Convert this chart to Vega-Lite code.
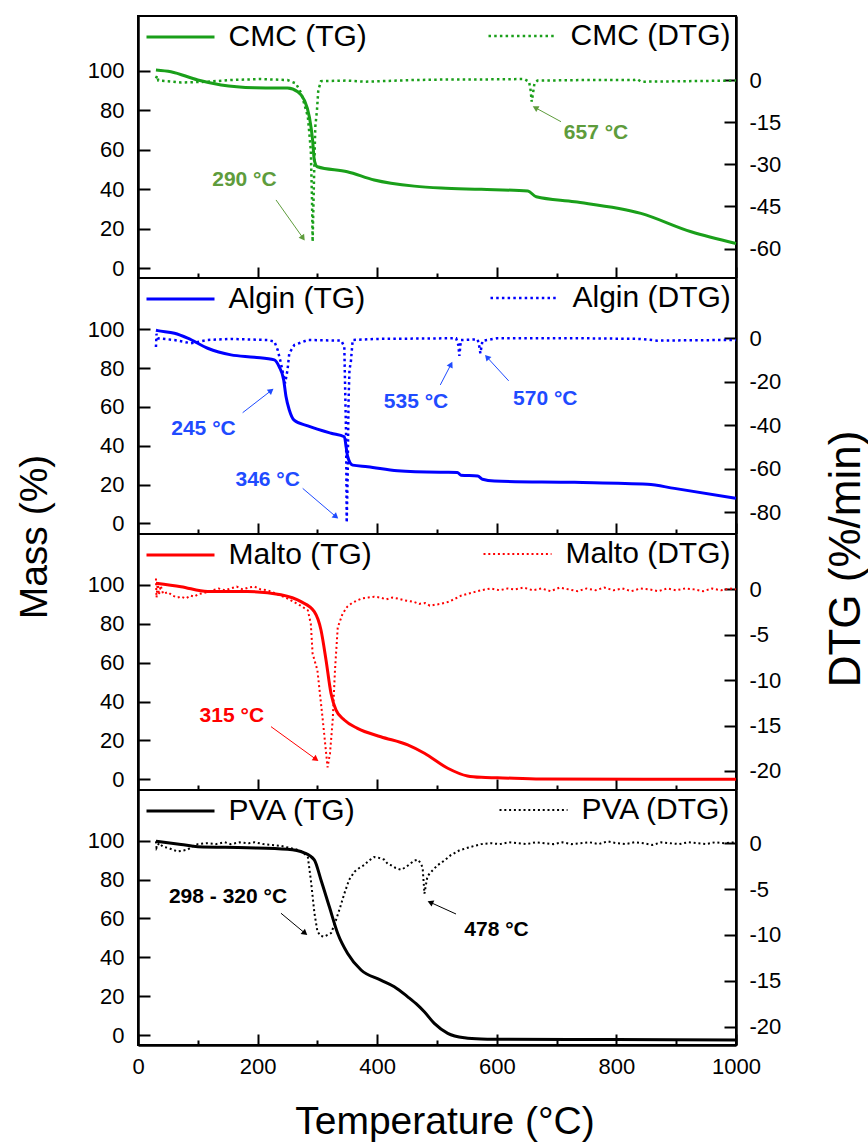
{
"$schema": "https://vega.github.io/schema/vega-lite/v6.json",
"padding": {"left": 14, "top": 15, "right": 14, "bottom": 22},
"background": "white",
"spacing": 0,
"bounds": "flush",
"datasets": {
"cmc": [
{"s":"CMC (TG)","T":30,"v":100.4},{"s":"CMC (TG)","T":55,"v":99.5},{"s":"CMC (TG)","T":100,"v":95.3},{"s":"CMC (TG)","T":139,"v":92.8},{"s":"CMC (TG)","T":195,"v":91.4},{"s":"CMC (TG)","T":250,"v":91.2},{"s":"CMC (TG)","T":267,"v":89.4},{"s":"CMC (TG)","T":278,"v":85.2},{"s":"CMC (TG)","T":286.5,"v":76.7},{"s":"CMC (TG)","T":292,"v":64.9},{"s":"CMC (TG)","T":294.8,"v":54.8},{"s":"CMC (TG)","T":300,"v":51.4},{"s":"CMC (TG)","T":350,"v":48.9},{"s":"CMC (TG)","T":395,"v":44.7},{"s":"CMC (TG)","T":462,"v":41.6},{"s":"CMC (TG)","T":507,"v":40.6},{"s":"CMC (TG)","T":574,"v":40.0},{"s":"CMC (TG)","T":652,"v":39.1},{"s":"CMC (TG)","T":666,"v":36.2},{"s":"CMC (TG)","T":730,"v":33.7},{"s":"CMC (TG)","T":841,"v":27.8},{"s":"CMC (TG)","T":925,"v":18.5},{"s":"CMC (TG)","T":1000,"v":12.6},
{"s":"CMC (DTG)","T":30,"v":0.6},{"s":"CMC (DTG)","T":32,"v":1.5},{"s":"CMC (DTG)","T":34,"v":-0.2},{"s":"CMC (DTG)","T":50,"v":-0.4},{"s":"CMC (DTG)","T":72,"v":-0.9},{"s":"CMC (DTG)","T":116,"v":-0.6},{"s":"CMC (DTG)","T":155,"v":0},{"s":"CMC (DTG)","T":206,"v":0.35},{"s":"CMC (DTG)","T":250,"v":0},{"s":"CMC (DTG)","T":264,"v":-1.2},{"s":"CMC (DTG)","T":273,"v":-4.7},{"s":"CMC (DTG)","T":284,"v":-13},{"s":"CMC (DTG)","T":289,"v":-25},{"s":"CMC (DTG)","T":291,"v":-42.7},{"s":"CMC (DTG)","T":292,"v":-57.6},{"s":"CMC (DTG)","T":294.8,"v":-30.9},{"s":"CMC (DTG)","T":296.5,"v":-16.6},{"s":"CMC (DTG)","T":299.3,"v":-10.7},{"s":"CMC (DTG)","T":301.5,"v":-3.6},{"s":"CMC (DTG)","T":306,"v":-0.4},{"s":"CMC (DTG)","T":350,"v":-0.2},{"s":"CMC (DTG)","T":378,"v":-0.6},{"s":"CMC (DTG)","T":406,"v":-0.4},{"s":"CMC (DTG)","T":462,"v":0},{"s":"CMC (DTG)","T":518,"v":0.2},{"s":"CMC (DTG)","T":574,"v":0.2},{"s":"CMC (DTG)","T":646,"v":0.35},{"s":"CMC (DTG)","T":654,"v":-0.6},{"s":"CMC (DTG)","T":656.5,"v":-3.6},{"s":"CMC (DTG)","T":658.4,"v":-7.7},{"s":"CMC (DTG)","T":663,"v":-1.2},{"s":"CMC (DTG)","T":668,"v":-0.2},{"s":"CMC (DTG)","T":750,"v":0},{"s":"CMC (DTG)","T":830,"v":0},{"s":"CMC (DTG)","T":835,"v":0.3},{"s":"CMC (DTG)","T":841,"v":-0.6},{"s":"CMC (DTG)","T":920,"v":-0.4},{"s":"CMC (DTG)","T":1000,"v":-0.2}
],
"algin": [
{"s":"Algin (TG)","T":30,"v":99.5},{"s":"Algin (TG)","T":33,"v":99.3},{"s":"Algin (TG)","T":61,"v":97.9},{"s":"Algin (TG)","T":83,"v":95.4},{"s":"Algin (TG)","T":116.5,"v":90.2},{"s":"Algin (TG)","T":155.5,"v":86.8},{"s":"Algin (TG)","T":194.5,"v":85.6},{"s":"Algin (TG)","T":228,"v":84.2},{"s":"Algin (TG)","T":236,"v":80.7},{"s":"Algin (TG)","T":243.6,"v":73.9},{"s":"Algin (TG)","T":247.5,"v":65.3},{"s":"Algin (TG)","T":253,"v":58.4},{"s":"Algin (TG)","T":261,"v":53.2},{"s":"Algin (TG)","T":284,"v":50.2},{"s":"Algin (TG)","T":323,"v":46.4},{"s":"Algin (TG)","T":345,"v":44.6},{"s":"Algin (TG)","T":348,"v":39.5},{"s":"Algin (TG)","T":350.6,"v":34.3},{"s":"Algin (TG)","T":359,"v":30},{"s":"Algin (TG)","T":384,"v":29.2},{"s":"Algin (TG)","T":434,"v":27.1},{"s":"Algin (TG)","T":507,"v":26.3},{"s":"Algin (TG)","T":534,"v":26.2},{"s":"Algin (TG)","T":540,"v":24.8},{"s":"Algin (TG)","T":568,"v":24.4},{"s":"Algin (TG)","T":576,"v":22.7},{"s":"Algin (TG)","T":596,"v":21.8},{"s":"Algin (TG)","T":730,"v":21.1},{"s":"Algin (TG)","T":852,"v":20.1},{"s":"Algin (TG)","T":897,"v":18},{"s":"Algin (TG)","T":1000,"v":12.9},
{"s":"Algin (DTG)","T":30,"v":-4},{"s":"Algin (DTG)","T":31,"v":2},{"s":"Algin (DTG)","T":33,"v":0},{"s":"Algin (DTG)","T":61,"v":-0.8},{"s":"Algin (DTG)","T":88.6,"v":-2.3},{"s":"Algin (DTG)","T":116.5,"v":-0.8},{"s":"Algin (DTG)","T":155.5,"v":-0.3},{"s":"Algin (DTG)","T":217,"v":-0.8},{"s":"Algin (DTG)","T":228,"v":-1.5},{"s":"Algin (DTG)","T":233.6,"v":-5.4},{"s":"Algin (DTG)","T":239,"v":-11.5},{"s":"Algin (DTG)","T":246,"v":-20.7},{"s":"Algin (DTG)","T":250,"v":-14.6},{"s":"Algin (DTG)","T":253,"v":-6.9},{"s":"Algin (DTG)","T":261.4,"v":-3.1},{"s":"Algin (DTG)","T":284,"v":-0.8},{"s":"Algin (DTG)","T":340,"v":-1.1},{"s":"Algin (DTG)","T":345,"v":-3.9},{"s":"Algin (DTG)","T":348,"v":-45},{"s":"Algin (DTG)","T":349,"v":-84.8},{"s":"Algin (DTG)","T":350.6,"v":-63.6},{"s":"Algin (DTG)","T":352,"v":-29.9},{"s":"Algin (DTG)","T":353.6,"v":-14.6},{"s":"Algin (DTG)","T":356,"v":-10.7},{"s":"Algin (DTG)","T":359,"v":-0.8},{"s":"Algin (DTG)","T":400,"v":-0.3},{"s":"Algin (DTG)","T":532,"v":0},{"s":"Algin (DTG)","T":535.7,"v":-3.1},{"s":"Algin (DTG)","T":537.4,"v":-8.1},{"s":"Algin (DTG)","T":540,"v":-0.8},{"s":"Algin (DTG)","T":568,"v":-0.5},{"s":"Algin (DTG)","T":570.8,"v":-3.9},{"s":"Algin (DTG)","T":572.5,"v":-6.9},{"s":"Algin (DTG)","T":576,"v":-1.2},{"s":"Algin (DTG)","T":600,"v":0},{"s":"Algin (DTG)","T":738,"v":0},{"s":"Algin (DTG)","T":840,"v":-0.3},{"s":"Algin (DTG)","T":869,"v":-1.1},{"s":"Algin (DTG)","T":930,"v":-0.9},{"s":"Algin (DTG)","T":1000,"v":-0.8}
],
"malto": [
{"s":"Malto (TG)","T":30,"v":100.9},{"s":"Malto (TG)","T":72,"v":99.1},{"s":"Malto (TG)","T":116.5,"v":96.6},{"s":"Malto (TG)","T":183,"v":96.6},{"s":"Malto (TG)","T":239,"v":94.9},{"s":"Malto (TG)","T":272.6,"v":91.4},{"s":"Malto (TG)","T":294.8,"v":86.3},{"s":"Malto (TG)","T":306,"v":76.8},{"s":"Malto (TG)","T":314.4,"v":61.4},{"s":"Malto (TG)","T":322.7,"v":44.3},{"s":"Malto (TG)","T":331,"v":35.7},{"s":"Malto (TG)","T":345,"v":30.5},{"s":"Malto (TG)","T":367,"v":26.2},{"s":"Malto (TG)","T":406,"v":21.9},{"s":"Malto (TG)","T":451,"v":17.7},{"s":"Malto (TG)","T":479,"v":13.4},{"s":"Malto (TG)","T":518,"v":5.7},{"s":"Malto (TG)","T":551,"v":1.7},{"s":"Malto (TG)","T":574,"v":1.0},{"s":"Malto (TG)","T":601,"v":0.8},{"s":"Malto (TG)","T":674,"v":0.1},{"s":"Malto (TG)","T":1000,"v":0},
{"s":"Malto (DTG)","T":30,"v":1.2},{"s":"Malto (DTG)","T":31,"v":-0.9},{"s":"Malto (DTG)","T":33,"v":0.8},{"s":"Malto (DTG)","T":35,"v":-0.6},{"s":"Malto (DTG)","T":38,"v":0.4},{"s":"Malto (DTG)","T":42,"v":-0.5},{"s":"Malto (DTG)","T":50,"v":-0.3},{"s":"Malto (DTG)","T":58,"v":-0.7},{"s":"Malto (DTG)","T":66,"v":-0.9},{"s":"Malto (DTG)","T":72,"v":-0.8},{"s":"Malto (DTG)","T":80,"v":-1.0},{"s":"Malto (DTG)","T":88,"v":-0.7},{"s":"Malto (DTG)","T":94,"v":-0.8},{"s":"Malto (DTG)","T":102,"v":-0.5},{"s":"Malto (DTG)","T":110,"v":-0.4},{"s":"Malto (DTG)","T":116,"v":-0.3},{"s":"Malto (DTG)","T":125,"v":-0.1},{"s":"Malto (DTG)","T":135,"v":0.1},{"s":"Malto (DTG)","T":145,"v":-0.1},{"s":"Malto (DTG)","T":155,"v":0.1},{"s":"Malto (DTG)","T":165,"v":0.3},{"s":"Malto (DTG)","T":175,"v":0.0},{"s":"Malto (DTG)","T":185,"v":0.2},{"s":"Malto (DTG)","T":195,"v":0.3},{"s":"Malto (DTG)","T":205,"v":0.0},{"s":"Malto (DTG)","T":217,"v":-0.1},{"s":"Malto (DTG)","T":228,"v":-0.4},{"s":"Malto (DTG)","T":239,"v":-0.7},{"s":"Malto (DTG)","T":250,"v":-1.0},{"s":"Malto (DTG)","T":261,"v":-1.4},{"s":"Malto (DTG)","T":272,"v":-1.8},{"s":"Malto (DTG)","T":284,"v":-2.3},{"s":"Malto (DTG)","T":289,"v":-3.8},{"s":"Malto (DTG)","T":292,"v":-7.1},{"s":"Malto (DTG)","T":300,"v":-8.9},{"s":"Malto (DTG)","T":309,"v":-14.4},{"s":"Malto (DTG)","T":317,"v":-19.6},{"s":"Malto (DTG)","T":321,"v":-18.1},{"s":"Malto (DTG)","T":325.6,"v":-14.4},{"s":"Malto (DTG)","T":329.4,"v":-8.9},{"s":"Malto (DTG)","T":334,"v":-4.2},{"s":"Malto (DTG)","T":342,"v":-2.7},{"s":"Malto (DTG)","T":350,"v":-1.9},{"s":"Malto (DTG)","T":358,"v":-1.5},{"s":"Malto (DTG)","T":367,"v":-1.2},{"s":"Malto (DTG)","T":375,"v":-1.0},{"s":"Malto (DTG)","T":385,"v":-0.9},{"s":"Malto (DTG)","T":395,"v":-0.8},{"s":"Malto (DTG)","T":405,"v":-0.9},{"s":"Malto (DTG)","T":415,"v":-1.1},{"s":"Malto (DTG)","T":425,"v":-0.9},{"s":"Malto (DTG)","T":434,"v":-1.0},{"s":"Malto (DTG)","T":445,"v":-1.2},{"s":"Malto (DTG)","T":455,"v":-1.3},{"s":"Malto (DTG)","T":462,"v":-1.4},{"s":"Malto (DTG)","T":470,"v":-1.6},{"s":"Malto (DTG)","T":480,"v":-1.5},{"s":"Malto (DTG)","T":488,"v":-1.8},{"s":"Malto (DTG)","T":496,"v":-1.7},{"s":"Malto (DTG)","T":506,"v":-1.6},{"s":"Malto (DTG)","T":518,"v":-1.4},{"s":"Malto (DTG)","T":528,"v":-1.1},{"s":"Malto (DTG)","T":540,"v":-0.7},{"s":"Malto (DTG)","T":551,"v":-0.5},{"s":"Malto (DTG)","T":562,"v":-0.3},{"s":"Malto (DTG)","T":574,"v":-0.1},{"s":"Malto (DTG)","T":590,"v":0.1},{"s":"Malto (DTG)","T":605,"v":-0.1},{"s":"Malto (DTG)","T":618,"v":0.1},{"s":"Malto (DTG)","T":630,"v":0.0},{"s":"Malto (DTG)","T":645,"v":0.2},{"s":"Malto (DTG)","T":660,"v":-0.1},{"s":"Malto (DTG)","T":675,"v":0.1},{"s":"Malto (DTG)","T":690,"v":-0.2},{"s":"Malto (DTG)","T":705,"v":0.2},{"s":"Malto (DTG)","T":720,"v":0.0},{"s":"Malto (DTG)","T":735,"v":-0.2},{"s":"Malto (DTG)","T":750,"v":0.1},{"s":"Malto (DTG)","T":765,"v":-0.1},{"s":"Malto (DTG)","T":780,"v":0.2},{"s":"Malto (DTG)","T":795,"v":-0.1},{"s":"Malto (DTG)","T":810,"v":0.1},{"s":"Malto (DTG)","T":825,"v":-0.2},{"s":"Malto (DTG)","T":840,"v":0.1},{"s":"Malto (DTG)","T":855,"v":0.0},{"s":"Malto (DTG)","T":870,"v":-0.2},{"s":"Malto (DTG)","T":885,"v":0.1},{"s":"Malto (DTG)","T":900,"v":-0.1},{"s":"Malto (DTG)","T":915,"v":0.1},{"s":"Malto (DTG)","T":930,"v":0.0},{"s":"Malto (DTG)","T":945,"v":-0.2},{"s":"Malto (DTG)","T":960,"v":0.1},{"s":"Malto (DTG)","T":975,"v":-0.1},{"s":"Malto (DTG)","T":990,"v":0.1},{"s":"Malto (DTG)","T":1000,"v":0.0}
],
"pva": [
{"s":"PVA (TG)","T":30,"v":99.8},{"s":"PVA (TG)","T":72,"v":98.1},{"s":"PVA (TG)","T":100,"v":96.9},{"s":"PVA (TG)","T":183,"v":96.4},{"s":"PVA (TG)","T":250,"v":95.6},{"s":"PVA (TG)","T":278,"v":93.8},{"s":"PVA (TG)","T":294.8,"v":90.1},{"s":"PVA (TG)","T":306,"v":79.8},{"s":"PVA (TG)","T":320,"v":66},{"s":"PVA (TG)","T":334,"v":52.3},{"s":"PVA (TG)","T":350.6,"v":42},{"s":"PVA (TG)","T":373,"v":33.5},{"s":"PVA (TG)","T":406,"v":28.3},{"s":"PVA (TG)","T":428.6,"v":24.9},{"s":"PVA (TG)","T":451,"v":19.7},{"s":"PVA (TG)","T":467.7,"v":15.4},{"s":"PVA (TG)","T":478.8,"v":12.0},{"s":"PVA (TG)","T":495.5,"v":6.0},{"s":"PVA (TG)","T":518,"v":0.9},{"s":"PVA (TG)","T":546,"v":-1.4},{"s":"PVA (TG)","T":574,"v":-2.0},{"s":"PVA (TG)","T":620,"v":-2.2},{"s":"PVA (TG)","T":800,"v":-2.3},{"s":"PVA (TG)","T":1000,"v":-2.5},
{"s":"PVA (DTG)","T":30,"v":0.2},{"s":"PVA (DTG)","T":31,"v":-0.5},{"s":"PVA (DTG)","T":35,"v":0.0},{"s":"PVA (DTG)","T":42,"v":-0.4},{"s":"PVA (DTG)","T":50,"v":-0.5},{"s":"PVA (DTG)","T":58,"v":-0.7},{"s":"PVA (DTG)","T":66,"v":-0.9},{"s":"PVA (DTG)","T":75,"v":-0.8},{"s":"PVA (DTG)","T":83,"v":-0.7},{"s":"PVA (DTG)","T":92,"v":-0.3},{"s":"PVA (DTG)","T":100,"v":-0.1},{"s":"PVA (DTG)","T":115,"v":0.0},{"s":"PVA (DTG)","T":130,"v":-0.1},{"s":"PVA (DTG)","T":145,"v":0.1},{"s":"PVA (DTG)","T":155,"v":-0.1},{"s":"PVA (DTG)","T":170,"v":0.1},{"s":"PVA (DTG)","T":185,"v":0.0},{"s":"PVA (DTG)","T":195,"v":0.1},{"s":"PVA (DTG)","T":210,"v":-0.1},{"s":"PVA (DTG)","T":225,"v":-0.2},{"s":"PVA (DTG)","T":239,"v":-0.3},{"s":"PVA (DTG)","T":253,"v":-0.5},{"s":"PVA (DTG)","T":266,"v":-0.7},{"s":"PVA (DTG)","T":276,"v":-1.0},{"s":"PVA (DTG)","T":284,"v":-1.5},{"s":"PVA (DTG)","T":289,"v":-4.0},{"s":"PVA (DTG)","T":295,"v":-7.6},{"s":"PVA (DTG)","T":300,"v":-9.6},{"s":"PVA (DTG)","T":305,"v":-10.1},{"s":"PVA (DTG)","T":311,"v":-10.2},{"s":"PVA (DTG)","T":317,"v":-10.0},{"s":"PVA (DTG)","T":323,"v":-9.8},{"s":"PVA (DTG)","T":331,"v":-8.4},{"s":"PVA (DTG)","T":338,"v":-7.0},{"s":"PVA (DTG)","T":345,"v":-5.5},{"s":"PVA (DTG)","T":353,"v":-4.0},{"s":"PVA (DTG)","T":362,"v":-3.1},{"s":"PVA (DTG)","T":370,"v":-2.7},{"s":"PVA (DTG)","T":378,"v":-2.4},{"s":"PVA (DTG)","T":386,"v":-1.9},{"s":"PVA (DTG)","T":395,"v":-1.5},{"s":"PVA (DTG)","T":403,"v":-1.6},{"s":"PVA (DTG)","T":412,"v":-1.8},{"s":"PVA (DTG)","T":418,"v":-2.3},{"s":"PVA (DTG)","T":423,"v":-2.4},{"s":"PVA (DTG)","T":431,"v":-2.7},{"s":"PVA (DTG)","T":440,"v":-2.9},{"s":"PVA (DTG)","T":448,"v":-2.6},{"s":"PVA (DTG)","T":456,"v":-2.2},{"s":"PVA (DTG)","T":462,"v":-1.9},{"s":"PVA (DTG)","T":468,"v":-1.8},{"s":"PVA (DTG)","T":473,"v":-2.2},{"s":"PVA (DTG)","T":476,"v":-2.7},{"s":"PVA (DTG)","T":479,"v":-5.5},{"s":"PVA (DTG)","T":484,"v":-3.6},{"s":"PVA (DTG)","T":492,"v":-3.0},{"s":"PVA (DTG)","T":501,"v":-2.4},{"s":"PVA (DTG)","T":512,"v":-1.9},{"s":"PVA (DTG)","T":523,"v":-1.3},{"s":"PVA (DTG)","T":537,"v":-0.8},{"s":"PVA (DTG)","T":551,"v":-0.5},{"s":"PVA (DTG)","T":562,"v":-0.3},{"s":"PVA (DTG)","T":574,"v":-0.1},{"s":"PVA (DTG)","T":590,"v":0.0},{"s":"PVA (DTG)","T":605,"v":-0.1},{"s":"PVA (DTG)","T":620,"v":0.1},{"s":"PVA (DTG)","T":635,"v":0.0},{"s":"PVA (DTG)","T":650,"v":-0.1},{"s":"PVA (DTG)","T":665,"v":0.1},{"s":"PVA (DTG)","T":680,"v":0.0},{"s":"PVA (DTG)","T":695,"v":-0.1},{"s":"PVA (DTG)","T":710,"v":0.1},{"s":"PVA (DTG)","T":725,"v":-0.1},{"s":"PVA (DTG)","T":740,"v":0.0},{"s":"PVA (DTG)","T":755,"v":0.1},{"s":"PVA (DTG)","T":770,"v":-0.1},{"s":"PVA (DTG)","T":785,"v":0.2},{"s":"PVA (DTG)","T":800,"v":0.0},{"s":"PVA (DTG)","T":815,"v":-0.1},{"s":"PVA (DTG)","T":830,"v":0.1},{"s":"PVA (DTG)","T":845,"v":0.0},{"s":"PVA (DTG)","T":860,"v":-0.2},{"s":"PVA (DTG)","T":875,"v":0.1},{"s":"PVA (DTG)","T":890,"v":0.0},{"s":"PVA (DTG)","T":905,"v":-0.1},{"s":"PVA (DTG)","T":920,"v":0.1},{"s":"PVA (DTG)","T":935,"v":0.0},{"s":"PVA (DTG)","T":950,"v":-0.1},{"s":"PVA (DTG)","T":965,"v":0.1},{"s":"PVA (DTG)","T":980,"v":0.0},{"s":"PVA (DTG)","T":1000,"v":0.1}
],
"notes": [
{"p":"CMC","label":"290 °C","tx":178,"ty":44.7,"ax":230.8,"ay":34.6,"bx":276,"by":15.3,"ang":144.6},
{"p":"CMC","label":"657 °C","tx":766,"ty":68.7,"ax":707.4,"ay":74.2,"bx":664.4,"by":81.3,"ang":298.6},
{"p":"Algin","label":"245 °C","tx":109.5,"ty":48.6,"ax":175,"ay":57,"bx":222.7,"by":68.4,"ang":52},
{"p":"Algin","label":"346 °C","tx":216.9,"ty":22.3,"ax":275.4,"ay":18,"bx":331.1,"by":3.4,"ang":130.5},
{"p":"Algin","label":"535 °C","tx":464.9,"ty":62.5,"ax":505.5,"ay":71.3,"bx":523.4,"by":81.9,"ang":27.3},
{"p":"Algin","label":"570 °C","tx":681,"ty":64.1,"ax":619.9,"ay":73.4,"bx":583.6,"by":85.6,"ang":317.5},
{"p":"Malto","label":"315 °C","tx":156.9,"ty":32.7,"ax":222.4,"ay":27.1,"bx":297.7,"by":10.3,"ang":125.9},
{"p":"PVA","label":"298 - 320 °C","tx":150.5,"ty":71.2,"ax":239.1,"ay":62.7,"bx":279.3,"by":52.4,"ang":129.8},
{"p":"PVA","label":"478 °C","tx":599.5,"ty":54.1,"ax":531.8,"ay":62.3,"bx":488.8,"by":68.3,"ang":294.3}
]
},
"vconcat": [
{
"width": 598, "height": 262,
"layer": [
{"layer": [
{"data": {"name": "cmc"}, "transform": [{"filter": "datum.s === 'CMC (TG)'"}],
 "mark": {"type": "line", "strokeWidth": 3, "interpolate": "monotone"},
 "encoding": {
  "x": {"field": "T", "type": "quantitative", "scale": {"domain": [0, 1000], "nice": false, "zero": false},
        "axis": {"values": [0,100,200,300,400,500,600,700,800,900,1000], "labels": false, "title": null, "tickSize": {"condition": {"test": "datum.value % 200 === 0", "value": -11}, "value": -5}}},
  "y": {"field": "v", "type": "quantitative", "scale": {"domain": [-4.9, 127.7], "nice": false, "zero": false},
        "axis": {"values": [0,20,40,60,80,100], "tickSize": -12, "labelPadding": 26, "title": null}},
  "color": {"field": "s", "type": "nominal", "scale": {"domain": ["CMC (TG)"], "range": ["#1a9f1a"]},
        "legend": {"orient": "top-left", "offset": 6, "title": null, "symbolType": "M-2,0H6", "symbolSize": 289, "symbolStrokeWidth": 3, "symbolOffset": 4.5, "labelOffset": 50}}
 }},
{"data": {"name": "notes"}, "transform": [{"filter": "datum.p === 'CMC'"}],
 "mark": {"type": "rule", "color": "#5e9c3c", "strokeWidth": 1},
 "encoding": {
  "x": {"field": "ax", "type": "quantitative", "scale": {"domain": [0, 1000], "nice": false, "zero": false},
        "axis": {"values": [0,100,200,300,400,500,600,700,800,900,1000], "labels": false, "title": null, "tickSize": {"condition": {"test": "datum.value % 200 === 0", "value": -11}, "value": -5}}},
  "y": {"field": "ay", "type": "quantitative", "scale": {"domain": [-4.9, 127.7], "nice": false, "zero": false},
        "axis": {"values": [0,20,40,60,80,100], "tickSize": -12, "labelPadding": 26, "title": null}},
  "x2": {"field": "bx"}, "y2": {"field": "by"}}},
{"data": {"name": "notes"}, "transform": [{"filter": "datum.p === 'CMC'"}],
 "mark": {"type": "point", "shape": "triangle-up", "filled": true, "size": 45, "color": "#5e9c3c", "opacity": 1},
 "encoding": {
  "x": {"field": "bx", "type": "quantitative", "scale": {"domain": [0, 1000], "nice": false, "zero": false},
        "axis": {"values": [0,100,200,300,400,500,600,700,800,900,1000], "labels": false, "title": null, "tickSize": {"condition": {"test": "datum.value % 200 === 0", "value": -11}, "value": -5}}},
  "y": {"field": "by", "type": "quantitative", "scale": {"domain": [-4.9, 127.7], "nice": false, "zero": false},
        "axis": {"values": [0,20,40,60,80,100], "tickSize": -12, "labelPadding": 26, "title": null}},
  "angle": {"field": "ang", "type": "quantitative", "scale": null}}},
{"data": {"name": "notes"}, "transform": [{"filter": "datum.p === 'CMC'"}],
 "mark": {"type": "text", "fontSize": 21, "fontWeight": "bold", "color": "#5e9c3c", "align": "center", "baseline": "middle", "font": "Liberation Sans"},
 "encoding": {
  "x": {"field": "tx", "type": "quantitative", "scale": {"domain": [0, 1000], "nice": false, "zero": false},
        "axis": {"values": [0,100,200,300,400,500,600,700,800,900,1000], "labels": false, "title": null, "tickSize": {"condition": {"test": "datum.value % 200 === 0", "value": -11}, "value": -5}}},
  "y": {"field": "ty", "type": "quantitative", "scale": {"domain": [-4.9, 127.7], "nice": false, "zero": false},
        "axis": {"values": [0,20,40,60,80,100], "tickSize": -12, "labelPadding": 26, "title": null}},
  "text": {"field": "label"}}}
]},
{"data": {"name": "cmc"}, "transform": [{"filter": "datum.s === 'CMC (DTG)'"}],
 "mark": {"type": "line", "strokeWidth": 2.5, "color": "#1a9f1a"},
 "encoding": {
  "x": {"field": "T", "type": "quantitative", "scale": {"domain": [0, 1000], "nice": false, "zero": false},
        "axis": {"values": [0,100,200,300,400,500,600,700,800,900,1000], "labels": false, "title": null, "tickSize": {"condition": {"test": "datum.value % 200 === 0", "value": -11}, "value": -5}}},
  "y": {"field": "v", "type": "quantitative", "scale": {"domain": [-70.5, 22.8], "nice": false, "zero": false},
        "axis": {"orient": "right", "values": [0,-15,-30,-45,-60], "tickSize": -12, "labelPadding": 25, "title": null, "labelExpr": "'' + datum.value"}},
  "strokeDash": {"field": "s", "type": "nominal", "scale": {"domain": ["CMC (DTG)"], "range": [[2.5, 3.2]]},
        "legend": {"orient": "top-right", "offset": 5, "title": null, "symbolType": "M-2,0H6", "symbolSize": 289, "symbolStrokeWidth": 2.5, "symbolOffset": 4.5, "labelOffset": 50, "symbolStrokeColor": "#1a9f1a"}}
 }}
],
"resolve": {"scale": {"y": "independent"}}
},
{
"width": 598, "height": 256,
"layer": [
{"layer": [
{"data": {"name": "algin"}, "transform": [{"filter": "datum.s === 'Algin (TG)'"}],
 "mark": {"type": "line", "strokeWidth": 3, "interpolate": "monotone"},
 "encoding": {
  "x": {"field": "T", "type": "quantitative", "scale": {"domain": [0, 1000], "nice": false, "zero": false},
        "axis": {"values": [0,100,200,300,400,500,600,700,800,900,1000], "labels": false, "title": null, "tickSize": {"condition": {"test": "datum.value % 200 === 0", "value": -11}, "value": -5}}},
  "y": {"field": "v", "type": "quantitative", "scale": {"domain": [-5.5, 126.4], "nice": false, "zero": false},
        "axis": {"values": [0,20,40,60,80,100], "tickSize": -12, "labelPadding": 26, "title": "Mass (%)", "titleFontSize": 39, "titleAngle": -90, "titleX": -92, "titleY": 258.5, "titleAlign": "center", "titleBaseline": "alphabetic", "titleLimit": 1000}},
  "color": {"field": "s", "type": "nominal", "scale": {"domain": ["Algin (TG)"], "range": ["#0000ff"]},
        "legend": {"orient": "top-left", "offset": 6, "title": null, "symbolType": "M-2,0H6", "symbolSize": 289, "symbolStrokeWidth": 3, "symbolOffset": 4.5, "labelOffset": 50}}
 }},
{"data": {"name": "notes"}, "transform": [{"filter": "datum.p === 'Algin'"}],
 "mark": {"type": "rule", "color": "#1f4bff", "strokeWidth": 1},
 "encoding": {
  "x": {"field": "ax", "type": "quantitative", "scale": {"domain": [0, 1000], "nice": false, "zero": false},
        "axis": {"values": [0,100,200,300,400,500,600,700,800,900,1000], "labels": false, "title": null, "tickSize": {"condition": {"test": "datum.value % 200 === 0", "value": -11}, "value": -5}}},
  "y": {"field": "ay", "type": "quantitative", "scale": {"domain": [-5.5, 126.4], "nice": false, "zero": false},
        "axis": {"values": [0,20,40,60,80,100], "tickSize": -12, "labelPadding": 26, "title": "Mass (%)", "titleFontSize": 39, "titleAngle": -90, "titleX": -92, "titleY": 258.5, "titleAlign": "center", "titleBaseline": "alphabetic", "titleLimit": 1000}},
  "x2": {"field": "bx"}, "y2": {"field": "by"}}},
{"data": {"name": "notes"}, "transform": [{"filter": "datum.p === 'Algin'"}],
 "mark": {"type": "point", "shape": "triangle-up", "filled": true, "size": 45, "color": "#1f4bff", "opacity": 1},
 "encoding": {
  "x": {"field": "bx", "type": "quantitative", "scale": {"domain": [0, 1000], "nice": false, "zero": false},
        "axis": {"values": [0,100,200,300,400,500,600,700,800,900,1000], "labels": false, "title": null, "tickSize": {"condition": {"test": "datum.value % 200 === 0", "value": -11}, "value": -5}}},
  "y": {"field": "by", "type": "quantitative", "scale": {"domain": [-5.5, 126.4], "nice": false, "zero": false},
        "axis": {"values": [0,20,40,60,80,100], "tickSize": -12, "labelPadding": 26, "title": "Mass (%)", "titleFontSize": 39, "titleAngle": -90, "titleX": -92, "titleY": 258.5, "titleAlign": "center", "titleBaseline": "alphabetic", "titleLimit": 1000}},
  "angle": {"field": "ang", "type": "quantitative", "scale": null}}},
{"data": {"name": "notes"}, "transform": [{"filter": "datum.p === 'Algin'"}],
 "mark": {"type": "text", "fontSize": 21, "fontWeight": "bold", "color": "#1f4bff", "align": "center", "baseline": "middle", "font": "Liberation Sans"},
 "encoding": {
  "x": {"field": "tx", "type": "quantitative", "scale": {"domain": [0, 1000], "nice": false, "zero": false},
        "axis": {"values": [0,100,200,300,400,500,600,700,800,900,1000], "labels": false, "title": null, "tickSize": {"condition": {"test": "datum.value % 200 === 0", "value": -11}, "value": -5}}},
  "y": {"field": "ty", "type": "quantitative", "scale": {"domain": [-5.5, 126.4], "nice": false, "zero": false},
        "axis": {"values": [0,20,40,60,80,100], "tickSize": -12, "labelPadding": 26, "title": "Mass (%)", "titleFontSize": 39, "titleAngle": -90, "titleX": -92, "titleY": 258.5, "titleAlign": "center", "titleBaseline": "alphabetic", "titleLimit": 1000}},
  "text": {"field": "label"}}}
]},
{"data": {"name": "algin"}, "transform": [{"filter": "datum.s === 'Algin (DTG)'"}],
 "mark": {"type": "line", "strokeWidth": 2.5, "color": "#0000ff"},
 "encoding": {
  "x": {"field": "T", "type": "quantitative", "scale": {"domain": [0, 1000], "nice": false, "zero": false},
        "axis": {"values": [0,100,200,300,400,500,600,700,800,900,1000], "labels": false, "title": null, "tickSize": {"condition": {"test": "datum.value % 200 === 0", "value": -11}, "value": -5}}},
  "y": {"field": "v", "type": "quantitative", "scale": {"domain": [-90, 27.7], "nice": false, "zero": false},
        "axis": {"orient": "right", "values": [0,-20,-40,-60,-80], "tickSize": -12, "labelPadding": 25, "labelExpr": "'' + datum.value", "title": "DTG (%/min)", "titleFontSize": 44, "titleAngle": -90, "titleX": 123, "titleY": 280.5, "titleAlign": "center", "titleBaseline": "alphabetic", "titleLimit": 1000}},
  "strokeDash": {"field": "s", "type": "nominal", "scale": {"domain": ["Algin (DTG)"], "range": [[2.5, 3.2]]},
        "legend": {"orient": "top-right", "offset": 5, "title": null, "symbolType": "M-2,0H6", "symbolSize": 289, "symbolStrokeWidth": 2.5, "symbolOffset": 4.5, "labelOffset": 50, "symbolStrokeColor": "#0000ff"}}
 }}
],
"resolve": {"scale": {"y": "independent"}}
},
{
"width": 598, "height": 256,
"layer": [
{"layer": [
{"data": {"name": "malto"}, "transform": [{"filter": "datum.s === 'Malto (TG)'"}],
 "mark": {"type": "line", "strokeWidth": 3, "interpolate": "monotone"},
 "encoding": {
  "x": {"field": "T", "type": "quantitative", "scale": {"domain": [0, 1000], "nice": false, "zero": false},
        "axis": {"values": [0,100,200,300,400,500,600,700,800,900,1000], "labels": false, "title": null, "tickSize": {"condition": {"test": "datum.value % 200 === 0", "value": -11}, "value": -5}}},
  "y": {"field": "v", "type": "quantitative", "scale": {"domain": [-5.5, 126.2], "nice": false, "zero": false},
        "axis": {"values": [0,20,40,60,80,100], "tickSize": -12, "labelPadding": 26, "title": null}},
  "color": {"field": "s", "type": "nominal", "scale": {"domain": ["Malto (TG)"], "range": ["#ff0000"]},
        "legend": {"orient": "top-left", "offset": 6, "title": null, "symbolType": "M-2,0H6", "symbolSize": 289, "symbolStrokeWidth": 3, "symbolOffset": 4.5, "labelOffset": 50}}
 }},
{"data": {"name": "notes"}, "transform": [{"filter": "datum.p === 'Malto'"}],
 "mark": {"type": "rule", "color": "#ff0000", "strokeWidth": 1},
 "encoding": {
  "x": {"field": "ax", "type": "quantitative", "scale": {"domain": [0, 1000], "nice": false, "zero": false},
        "axis": {"values": [0,100,200,300,400,500,600,700,800,900,1000], "labels": false, "title": null, "tickSize": {"condition": {"test": "datum.value % 200 === 0", "value": -11}, "value": -5}}},
  "y": {"field": "ay", "type": "quantitative", "scale": {"domain": [-5.5, 126.2], "nice": false, "zero": false},
        "axis": {"values": [0,20,40,60,80,100], "tickSize": -12, "labelPadding": 26, "title": null}},
  "x2": {"field": "bx"}, "y2": {"field": "by"}}},
{"data": {"name": "notes"}, "transform": [{"filter": "datum.p === 'Malto'"}],
 "mark": {"type": "point", "shape": "triangle-up", "filled": true, "size": 45, "color": "#ff0000", "opacity": 1},
 "encoding": {
  "x": {"field": "bx", "type": "quantitative", "scale": {"domain": [0, 1000], "nice": false, "zero": false},
        "axis": {"values": [0,100,200,300,400,500,600,700,800,900,1000], "labels": false, "title": null, "tickSize": {"condition": {"test": "datum.value % 200 === 0", "value": -11}, "value": -5}}},
  "y": {"field": "by", "type": "quantitative", "scale": {"domain": [-5.5, 126.2], "nice": false, "zero": false},
        "axis": {"values": [0,20,40,60,80,100], "tickSize": -12, "labelPadding": 26, "title": null}},
  "angle": {"field": "ang", "type": "quantitative", "scale": null}}},
{"data": {"name": "notes"}, "transform": [{"filter": "datum.p === 'Malto'"}],
 "mark": {"type": "text", "fontSize": 21, "fontWeight": "bold", "color": "#ff0000", "align": "center", "baseline": "middle", "font": "Liberation Sans"},
 "encoding": {
  "x": {"field": "tx", "type": "quantitative", "scale": {"domain": [0, 1000], "nice": false, "zero": false},
        "axis": {"values": [0,100,200,300,400,500,600,700,800,900,1000], "labels": false, "title": null, "tickSize": {"condition": {"test": "datum.value % 200 === 0", "value": -11}, "value": -5}}},
  "y": {"field": "ty", "type": "quantitative", "scale": {"domain": [-5.5, 126.2], "nice": false, "zero": false},
        "axis": {"values": [0,20,40,60,80,100], "tickSize": -12, "labelPadding": 26, "title": null}},
  "text": {"field": "label"}}}
]},
{"data": {"name": "malto"}, "transform": [{"filter": "datum.s === 'Malto (DTG)'"}],
 "mark": {"type": "line", "strokeWidth": 2, "color": "#ff0000"},
 "encoding": {
  "x": {"field": "T", "type": "quantitative", "scale": {"domain": [0, 1000], "nice": false, "zero": false},
        "axis": {"values": [0,100,200,300,400,500,600,700,800,900,1000], "labels": false, "title": null, "tickSize": {"condition": {"test": "datum.value % 200 === 0", "value": -11}, "value": -5}}},
  "y": {"field": "v", "type": "quantitative", "scale": {"domain": [-22.1, 6.1], "nice": false, "zero": false},
        "axis": {"orient": "right", "values": [0,-5,-10,-15,-20], "tickSize": -12, "labelPadding": 25, "title": null, "labelExpr": "'' + datum.value"}},
  "strokeDash": {"field": "s", "type": "nominal", "scale": {"domain": ["Malto (DTG)"], "range": [[2, 2.8]]},
        "legend": {"orient": "top-right", "offset": 5, "title": null, "symbolType": "M-2,0H6", "symbolSize": 289, "symbolStrokeWidth": 2, "symbolOffset": 4.5, "labelOffset": 50, "symbolStrokeColor": "#ff0000"}}
 }}
],
"resolve": {"scale": {"y": "independent"}}
},
{
"width": 598, "height": 255,
"layer": [
{"layer": [
{"data": {"name": "pva"}, "transform": [{"filter": "datum.s === 'PVA (TG)'"}],
 "mark": {"type": "line", "strokeWidth": 3, "interpolate": "monotone"},
 "encoding": {
  "x": {"field": "T", "type": "quantitative", "scale": {"domain": [0, 1000], "nice": false, "zero": false},
        "axis": {"values": [0,100,200,300,400,500,600,700,800,900,1000], "labels": true, "labelExpr": "datum.value % 200 === 0 ? '' + datum.value : ''", "labelPadding": 22, "tickSize": {"condition": {"test": "datum.value % 200 === 0", "value": -11}, "value": -5}, "title": "Temperature (°C)", "titleFontSize": 39, "titleX": 306.5, "titleY": 88, "titleAlign": "center", "titleBaseline": "alphabetic", "titleLimit": 1000}},
  "y": {"field": "v", "type": "quantitative", "scale": {"domain": [-5.1, 126.1], "nice": false, "zero": false},
        "axis": {"values": [0,20,40,60,80,100], "tickSize": -12, "labelPadding": 26, "title": null}},
  "color": {"field": "s", "type": "nominal", "scale": {"domain": ["PVA (TG)"], "range": ["#000000"]},
        "legend": {"orient": "top-left", "offset": 6, "title": null, "symbolType": "M-2,0H6", "symbolSize": 289, "symbolStrokeWidth": 3, "symbolOffset": 4.5, "labelOffset": 50}}
 }},
{"data": {"name": "notes"}, "transform": [{"filter": "datum.p === 'PVA'"}],
 "mark": {"type": "rule", "color": "#000000", "strokeWidth": 1},
 "encoding": {
  "x": {"field": "ax", "type": "quantitative", "scale": {"domain": [0, 1000], "nice": false, "zero": false},
        "axis": {"values": [0,100,200,300,400,500,600,700,800,900,1000], "labels": true, "labelExpr": "datum.value % 200 === 0 ? '' + datum.value : ''", "labelPadding": 22, "tickSize": {"condition": {"test": "datum.value % 200 === 0", "value": -11}, "value": -5}, "title": "Temperature (°C)", "titleFontSize": 39, "titleX": 306.5, "titleY": 88, "titleAlign": "center", "titleBaseline": "alphabetic", "titleLimit": 1000}},
  "y": {"field": "ay", "type": "quantitative", "scale": {"domain": [-5.1, 126.1], "nice": false, "zero": false},
        "axis": {"values": [0,20,40,60,80,100], "tickSize": -12, "labelPadding": 26, "title": null}},
  "x2": {"field": "bx"}, "y2": {"field": "by"}}},
{"data": {"name": "notes"}, "transform": [{"filter": "datum.p === 'PVA'"}],
 "mark": {"type": "point", "shape": "triangle-up", "filled": true, "size": 45, "color": "#000000", "opacity": 1},
 "encoding": {
  "x": {"field": "bx", "type": "quantitative", "scale": {"domain": [0, 1000], "nice": false, "zero": false},
        "axis": {"values": [0,100,200,300,400,500,600,700,800,900,1000], "labels": true, "labelExpr": "datum.value % 200 === 0 ? '' + datum.value : ''", "labelPadding": 22, "tickSize": {"condition": {"test": "datum.value % 200 === 0", "value": -11}, "value": -5}, "title": "Temperature (°C)", "titleFontSize": 39, "titleX": 306.5, "titleY": 88, "titleAlign": "center", "titleBaseline": "alphabetic", "titleLimit": 1000}},
  "y": {"field": "by", "type": "quantitative", "scale": {"domain": [-5.1, 126.1], "nice": false, "zero": false},
        "axis": {"values": [0,20,40,60,80,100], "tickSize": -12, "labelPadding": 26, "title": null}},
  "angle": {"field": "ang", "type": "quantitative", "scale": null}}},
{"data": {"name": "notes"}, "transform": [{"filter": "datum.p === 'PVA'"}],
 "mark": {"type": "text", "fontSize": 21, "fontWeight": "bold", "color": "#000000", "align": "center", "baseline": "middle", "font": "Liberation Sans"},
 "encoding": {
  "x": {"field": "tx", "type": "quantitative", "scale": {"domain": [0, 1000], "nice": false, "zero": false},
        "axis": {"values": [0,100,200,300,400,500,600,700,800,900,1000], "labels": true, "labelExpr": "datum.value % 200 === 0 ? '' + datum.value : ''", "labelPadding": 22, "tickSize": {"condition": {"test": "datum.value % 200 === 0", "value": -11}, "value": -5}, "title": "Temperature (°C)", "titleFontSize": 39, "titleX": 306.5, "titleY": 88, "titleAlign": "center", "titleBaseline": "alphabetic", "titleLimit": 1000}},
  "y": {"field": "ty", "type": "quantitative", "scale": {"domain": [-5.1, 126.1], "nice": false, "zero": false},
        "axis": {"values": [0,20,40,60,80,100], "tickSize": -12, "labelPadding": 26, "title": null}},
  "text": {"field": "label"}}}
]},
{"data": {"name": "pva"}, "transform": [{"filter": "datum.s === 'PVA (DTG)'"}],
 "mark": {"type": "line", "strokeWidth": 2, "color": "#000000"},
 "encoding": {
  "x": {"field": "T", "type": "quantitative", "scale": {"domain": [0, 1000], "nice": false, "zero": false},
        "axis": {"values": [0,100,200,300,400,500,600,700,800,900,1000], "labels": true, "labelExpr": "datum.value % 200 === 0 ? '' + datum.value : ''", "labelPadding": 22, "tickSize": {"condition": {"test": "datum.value % 200 === 0", "value": -11}, "value": -5}, "title": "Temperature (°C)", "titleFontSize": 39, "titleX": 306.5, "titleY": 88, "titleAlign": "center", "titleBaseline": "alphabetic", "titleLimit": 1000}},
  "y": {"field": "v", "type": "quantitative", "scale": {"domain": [-22, 5.8], "nice": false, "zero": false},
        "axis": {"orient": "right", "values": [0,-5,-10,-15,-20], "tickSize": -12, "labelPadding": 25, "title": null, "labelExpr": "'' + datum.value"}},
  "strokeDash": {"field": "s", "type": "nominal", "scale": {"domain": ["PVA (DTG)"], "range": [[2, 2.8]]},
        "legend": {"orient": "top-right", "offset": 5, "title": null, "symbolType": "M-2,0H6", "symbolSize": 289, "symbolStrokeWidth": 2, "symbolOffset": 4.5, "labelOffset": 50, "symbolStrokeColor": "#000000"}}
 }}
],
"resolve": {"scale": {"y": "independent"}}
}
],
"resolve": {"scale": {"color": "independent", "strokeDash": "independent"}, "legend": {"color": "independent", "strokeDash": "independent"}},
"config": {
 "font": "Liberation Sans",
 "view": {"stroke": "black", "strokeWidth": 2, "fill": "white"},
 "axis": {"labelFont": "Liberation Sans", "labelFontSize": 22, "labelColor": "black", "domainColor": "black", "domainWidth": 2.5, "tickColor": "black", "tickWidth": 2, "grid": false, "titleFont": "Liberation Sans", "titleFontWeight": "normal", "titleColor": "black", "labelFlush": false, "labelOverlap": false},
 "legend": {"labelFont": "Liberation Sans", "labelFontSize": 30, "labelColor": "black", "labelLimit": 600, "padding": 0}
}
}
